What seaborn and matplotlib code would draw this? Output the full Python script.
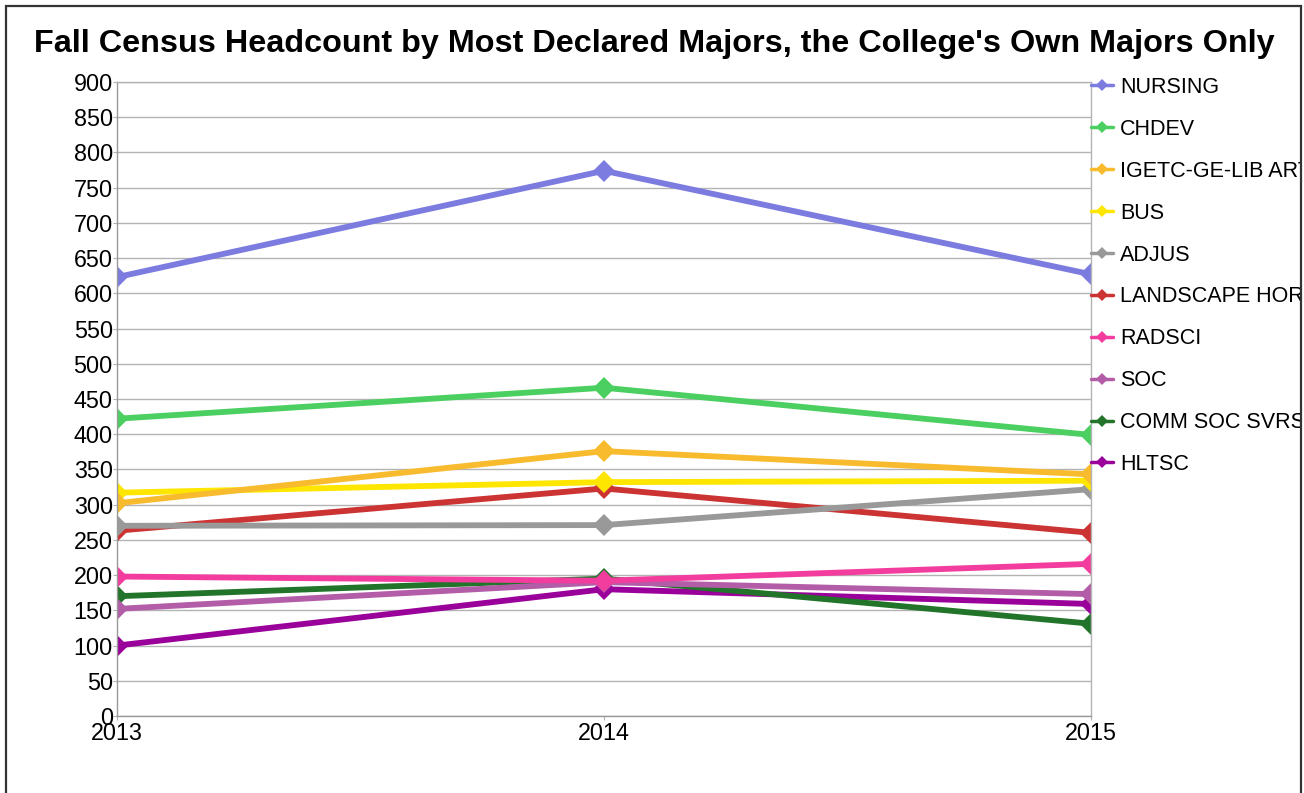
import pandas as pd
import matplotlib.pyplot as plt
import seaborn as sns
from matplotlib.lines import Line2D
from matplotlib.patches import Rectangle
from matplotlib.transforms import Bbox, TransformedBbox

# Data
years = [2013, 2014, 2015]
majors = ["NURSING", "CHDEV", "IGETC-GE-LIB ARTS", "BUS", "ADJUS",
          "LANDSCAPE HORT", "RADSCI", "SOC", "COMM SOC SVRS", "HLTSC"]
nursing = [623, 774, 627]
chdev = [422, 466, 399]
igetc = [302, 376, 343]
bus = [317, 332, 334]
adjus = [270, 271, 322]
landscape = [263, 323, 260]
radsci = [198, 192, 216]
soc = [152, 190, 173]
comm_soc = [170, 195, 131]
hltsc = [100, 180, 159]
colors = ["#7b7be0", "#4bcf60", "#f7bb2d", "#ffe600", "#999999",
          "#cc3333", "#f23d9f", "#b35ca8", "#217429", "#9a009a"]

values = [nursing, chdev, igetc, bus, adjus, landscape, radsci, soc, comm_soc, hltsc]
df = pd.DataFrame({
    "year": years * len(majors),
    "major": [m for m in majors for _ in years],
    "headcount": [v for vals in values for v in vals],
})

sns.set_style("white")
plt.rcParams["font.family"] = ["Liberation Sans", "DejaVu Sans"]
plt.rcParams["text.color"] = "black"
plt.rcParams["xtick.labelcolor"] = "black"
plt.rcParams["ytick.labelcolor"] = "black"

fig = plt.figure(figsize=(13.04, 7.93), dpi=100)
ax = fig.add_axes([117 / 1304, 1 - 716 / 793, (1091 - 117) / 1304, (716 - 82) / 793])

# first series ends up on top, like the original
for i in reversed(range(len(majors))):
    sub = df[df["major"] == majors[i]]
    sns.lineplot(data=sub, x="year", y="headcount", ax=ax, color=colors[i],
                 linewidth=4.2, marker="D", markersize=11, markeredgewidth=0,
                 legend=False)

ax.set_xlim(2013, 2015)
ax.set_ylim(0, 900)
ax.set_xticks(years)
ax.set_xticklabels([str(y) for y in years])
ax.set_yticks(range(0, 901, 50))
ax.yaxis.grid(True, color="#b3b3b3", linewidth=1)
ax.xaxis.grid(False)
ax.set_axisbelow(True)
ax.set_xlabel("")
ax.set_ylabel("")
ax.tick_params(axis="y", labelsize=16.8, length=3, pad=0, color="#b3b3b3", left=True)
ax.tick_params(axis="x", labelsize=16.8, length=3, pad=1, color="#b3b3b3", bottom=True)
for s in ax.spines.values():
    s.set_color("#b3b3b3")
    s.set_linewidth(1)
ax.spines["left"].set_color("#999999")
ax.spines["bottom"].set_color("#999999")

fig.suptitle("Fall Census Headcount by Most Declared Majors, the College's Own Majors Only",
             x=0.5015, y=1 - 44 / 793, va="center", fontsize=23.3, fontweight="bold",
             color="black")

handles = [Line2D([], [], color=c, linewidth=2.5, marker="D", markersize=6,
                  markeredgewidth=0) for c in colors]
leg = fig.legend(handles, majors, loc="upper left",
                 bbox_to_anchor=(1091 / 1304, 1 - 77 / 793),
                 frameon=False, fontsize=15.5, handlelength=1.0, handletextpad=0.35,
                 labelspacing=0.97, borderpad=0, borderaxespad=0, numpoints=1)
clip = TransformedBbox(Bbox([[0, 0], [1300 / 1304, 1]]), fig.transFigure)
for t in leg.get_texts():
    t.set_clip_box(clip)
    t.set_clip_on(True)

# outer frame
fig.add_artist(Rectangle((6 / 1304, -0.05), (1301 - 6) / 1304, 1.05 - 6 / 793,
                         transform=fig.transFigure, fill=False,
                         edgecolor="#333333", linewidth=1.6))

fig.savefig("out.png", dpi=100)
